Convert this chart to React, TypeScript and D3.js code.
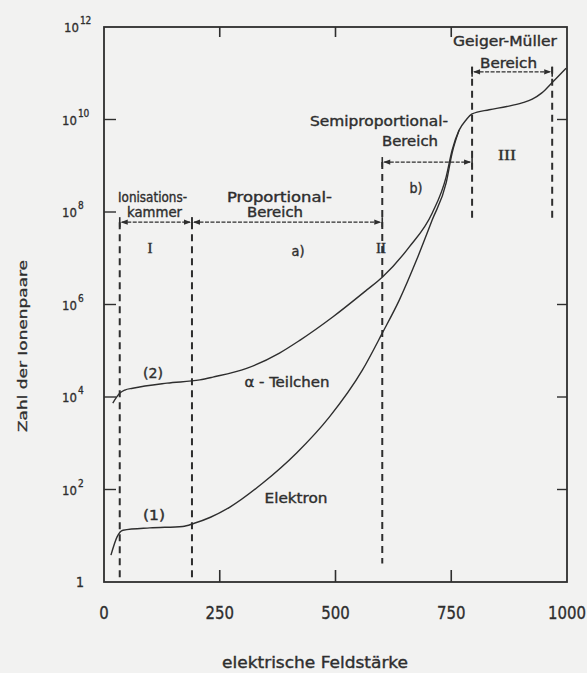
import React from "react";
import * as d3 from "d3";

// ---- data ----
const fieldTicks = [0, 250, 500, 750, 1000];
const fieldTickLabels = ["0", "250", "500", "750", "1000"];
const ionExpTicks = [0, 2, 4, 6, 8, 10, 12];

// alpha particle curve (2): field strength, log10(ion pairs)
const alphaField = [19, 35, 45, 62, 136, 207, 235, 308, 379, 422, 494, 567, 601, 659, 709, 739, 752, 767, 782, 795, 832, 870, 903, 925, 945, 968, 998];
const alphaExp = [3.87, 4.09, 4.15, 4.19, 4.3, 4.37, 4.43, 4.62, 4.95, 5.22, 5.73, 6.31, 6.59, 7.24, 7.98, 8.76, 9.34, 9.77, 9.99, 10.12, 10.21, 10.28, 10.36, 10.44, 10.57, 10.8, 11.11];

// electron curve (1)
const electronField = [15, 28, 41, 99, 170, 195, 230, 272, 343, 416, 487, 558, 601, 638, 675, 709, 739, 752, 767];
const electronExp = [0.58, 0.97, 1.12, 1.17, 1.2, 1.27, 1.4, 1.62, 2.14, 2.79, 3.57, 4.58, 5.38, 6.1, 6.96, 7.83, 8.63, 9.28, 9.77];

// region boundaries (field strength) with vertical extents (log10)
const boundaryField = [34, 190, 601, 795, 968];
const boundaryTop = [7.78, 7.78, 9.08, 11.14, 11.14];
const boundaryBottom = [0, 0, 0.4, 7.82, 7.82];

// region brackets: from, to, level (log10)
const bracketFrom = [34, 190, 601, 795];
const bracketTo = [190, 601, 795, 968];
const bracketLevel = [7.78, 7.78, 9.08, 11.03];

const W = 587;
const H = 673;
const INK = "#2e2e2e";
const FONT = "'DejaVu Sans Condensed', 'Liberation Sans Narrow', 'DejaVu Sans', sans-serif";
const SERIF = "'Liberation Serif', 'DejaVu Serif', serif";

export default function App() {
  const x = d3.scaleLinear().domain([0, 1000]).range([104, 567]);
  const y = d3.scaleLog().domain([1, 1e12]).range([582, 27]);
  const ye = (e: number) => y(Math.pow(10, e));

  const line = d3
    .line<[number, number]>()
    .x((d) => x(d[0]))
    .y((d) => ye(d[1]))
    .curve(d3.curveMonotoneX);

  const alphaPts = alphaField.map((f, i) => [f, alphaExp[i]] as [number, number]);
  const elecPts = electronField.map((f, i) => [f, electronExp[i]] as [number, number]);

  const [x0, x1] = x.range();
  const [yb, yt] = y.range();

  const arrow = (px: number, py: number, dir: number, key: string) => (
    <path
      key={key}
      d={`M${px},${py} L${px - dir * 7},${py - 2.6} L${px - dir * 7},${py + 2.6} Z`}
      fill={INK}
    />
  );

  const label = (
    t: string,
    cx: number,
    by: number,
    w: number,
    size: number,
    key: string,
    family = FONT
  ) => (
    <text
      key={key}
      x={cx}
      y={by}
      textAnchor="middle"
      fontSize={size}
      fontFamily={family}
      fill={INK}
      stroke={INK}
      strokeWidth={0.35}
      textLength={w}
      lengthAdjust="spacingAndGlyphs"
    >
      {t}
    </text>
  );

  return (
    <svg
      width={W}
      height={H}
      style={{ position: "absolute", left: 0, top: 0, background: "#f2f2f1" }}
    >
      <rect x={0} y={0} width={W} height={H} fill="#f2f2f1" />

      {/* frame */}
      <rect x={x0} y={yt} width={x1 - x0} height={yb - yt} fill="none" stroke={INK} strokeWidth={1.8} />

      {/* left & right ticks */}
      {ionExpTicks.filter((e) => e > 0 && e < 12).map((e) => (
        <line key={"lt" + e} x1={x0} x2={x0 + 12} y1={ye(e)} y2={ye(e)} stroke={INK} strokeWidth={1.4} />
      ))}
      {[2, 4, 6, 10].map((e) => (
        <line key={"rt" + e} x1={x1} x2={x1 - 10} y1={ye(e)} y2={ye(e)} stroke={INK} strokeWidth={1.4} />
      ))}
      {/* top & bottom ticks */}
      {fieldTicks.filter((f) => f > 0 && f < 1000).map((f) => (
        <g key={"xt" + f}>
          <line x1={x(f)} x2={x(f)} y1={yb} y2={yb - 12} stroke={INK} strokeWidth={1.6} />
          <line x1={x(f)} x2={x(f)} y1={yt} y2={yt + 10} stroke={INK} strokeWidth={1.6} />
        </g>
      ))}

      {/* y tick labels */}
      {ionExpTicks.map((e) =>
        e === 0 ? (
          <text key={"yl" + e} x={80} y={ye(e) + 5} textAnchor="middle" fontSize={14} fontFamily={FONT} fill={INK} stroke={INK} strokeWidth={0.3}>
            1
          </text>
        ) : (
          <text key={"yl" + e} x={e === 12 ? 64 : 62} y={ye(e) + 5} fontSize={13} fontFamily={FONT} fill={INK} stroke={INK} strokeWidth={0.3}>
            10
            <tspan dy={-8} dx={1} fontSize={10}>
              {e}
            </tspan>
          </text>
        )
      )}

      {/* x tick labels */}
      {fieldTicks.map((f, i) => (
        <text
          key={"xl" + f}
          x={x(f)}
          y={619}
          textAnchor="middle"
          fontSize={17}
          fontFamily={FONT}
          fill={INK}
          stroke={INK}
          strokeWidth={0.3}
          textLength={fieldTickLabels[i].length * 9.5}
          lengthAdjust="spacingAndGlyphs"
        >
          {fieldTickLabels[i]}
        </text>
      ))}

      {/* region boundaries */}
      {boundaryField.map((f, i) => (
        <line
          key={"b" + i}
          x1={x(f)}
          x2={x(f)}
          y1={ye(boundaryTop[i])}
          y2={ye(boundaryBottom[i])}
          stroke={INK}
          strokeWidth={2}
          strokeDasharray="7 5"
        />
      ))}

      {/* brackets */}
      {bracketFrom.map((f, i) => {
        const a = x(f);
        const b = x(bracketTo[i]);
        const yy = ye(bracketLevel[i]);
        return (
          <g key={"br" + i}>
            <line x1={a + 2} x2={b - 2} y1={yy} y2={yy} stroke={INK} strokeWidth={1.2} strokeDasharray="4 1.5" />
            {arrow(a + 1, yy, -1, "al")}
            {arrow(b - 1, yy, 1, "ar")}
            <line x1={a} x2={a} y1={yy - 5} y2={yy + 5} stroke={INK} strokeWidth={1.6} />
            <line x1={b} x2={b} y1={yy - 5} y2={yy + 5} stroke={INK} strokeWidth={1.6} />
          </g>
        );
      })}

      {/* curves */}
      <path d={line(alphaPts) || ""} fill="none" stroke={INK} strokeWidth={1.4} />
      <path d={line(elecPts) || ""} fill="none" stroke={INK} strokeWidth={1.4} />

      {/* annotations */}
      {label("Ionisations-", 152.5, 202, 69, 13.5, "t1")}
      {label("kammer", 154.5, 217, 55, 13.5, "t2")}
      {label("Proportional-", 279.5, 202, 105, 13.5, "t3")}
      {label("Bereich", 275, 217, 56, 13.5, "t4")}
      {label("Semiproportional-", 379, 126, 138, 13.5, "t5")}
      {label("Bereich", 410, 146, 56, 13.5, "t6")}
      {label("Geiger-Müller", 505, 46, 104, 13.5, "t7")}
      {label("Bereich", 508.5, 68, 57, 13.5, "t8")}
      {label("I", 150, 253, 5, 15, "r1", SERIF)}
      {label("II", 381, 253, 10, 15, "r2", SERIF)}
      {label("III", 507, 160, 18, 15, "r3", SERIF)}
      {label("a)", 298, 256, 13, 14, "a")}
      {label("b)", 416, 193, 13, 14, "b")}
      {label("(2)", 153, 378, 20, 14, "c2")}
      {label("(1)", 154, 520, 22, 14, "c1")}
      {label("α - Teilchen", 287, 387, 85, 14, "al")}
      {label("Elektron", 296, 503, 63, 14, "el")}

      {/* axis titles */}
      <text
        transform={`translate(27,346) rotate(-90)`}
        textAnchor="middle"
        fontSize={13}
        fontFamily={FONT}
        fill={INK}
        stroke={INK}
        strokeWidth={0.3}
        textLength={172}
        lengthAdjust="spacingAndGlyphs"
      >
        Zahl der Ionenpaare
      </text>
      {label("elektrische Feldstärke", 315, 668, 186, 16, "xt")}
    </svg>
  );
}
